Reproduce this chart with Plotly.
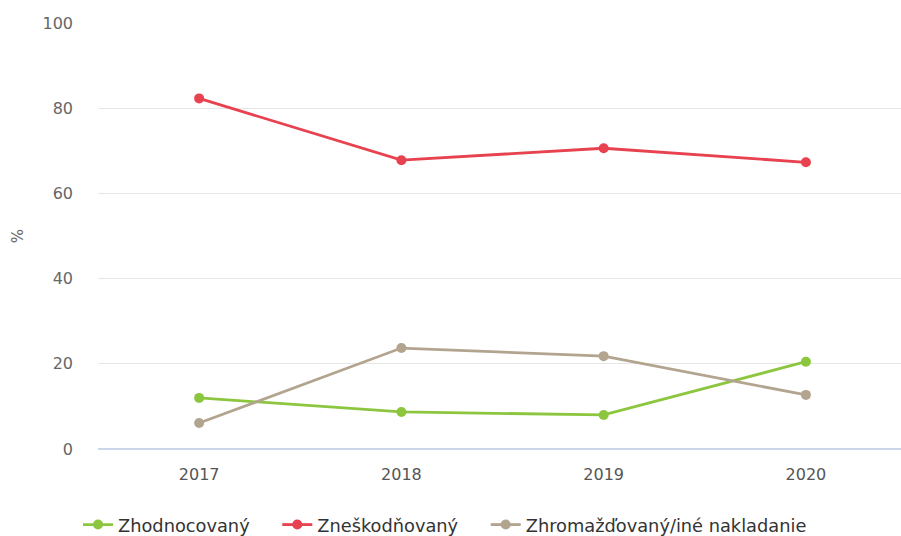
import plotly.graph_objects as go

years = [2017, 2018, 2019, 2020]
zhodnocovany = [12.0, 8.7, 8.0, 20.5]
zneskodnovany = [82.3, 67.8, 70.6, 67.3]
zhromazdovany = [6.1, 23.7, 21.8, 12.7]

series = [
    ("Zhodnocovaný", zhodnocovany, "#8cc63f"),
    ("Zneškodňovaný", zneskodnovany, "#e8414f"),
    ("Zhromažďovaný/iné nakladanie", zhromazdovany, "#b3a48f"),
]

pad = "\u00a0\u00a0\u00a0\u00a0"
fig = go.Figure()
for name, vals, col in series:
    fig.add_trace(go.Scatter(
        x=years, y=vals, name=name + pad, mode="lines+markers",
        line=dict(color=col, width=2.8),
        marker=dict(color=col, size=10),
    ))

fig.update_layout(
    width=901, height=536,
    margin=dict(l=98, r=0, t=23, b=87, autoexpand=False),
    paper_bgcolor="white", plot_bgcolor="white",
    font=dict(family="DejaVu Sans", color="#666666", size=13),
    showlegend=True,
    legend=dict(
        orientation="h", xref="container", x=0.0866, xanchor="left",
        yref="container", y=0.0205, yanchor="middle",
        font=dict(size=17.8, color="#333333"),
        itemwidth=30,
    ),
    xaxis=dict(
        range=[2016.5, 2020.47], automargin=False,
        tickvals=years, ticktext=[str(y) for y in years],
        showgrid=False, zeroline=False, showline=False,
        ticks="", ticklabelstandoff=14,
        tickfont=dict(size=16, color="#555555"),
    ),
    yaxis=dict(
        range=[0, 100], tickvals=[0, 20, 40, 60, 80, 100], automargin=False,
        showgrid=True, gridcolor="#e6e6e6", gridwidth=1,
        zeroline=True, zerolinecolor="#ccd6eb", zerolinewidth=2,
        ticks="", ticklabelstandoff=24,
        tickfont=dict(size=16, color="#666666"),
        title=dict(text="%", font=dict(size=15, color="#666666"), standoff=15),
    ),
)

fig.write_html("out.html", config={"displayModeBar": False},
               post_script="document.body.style.margin='0';")
